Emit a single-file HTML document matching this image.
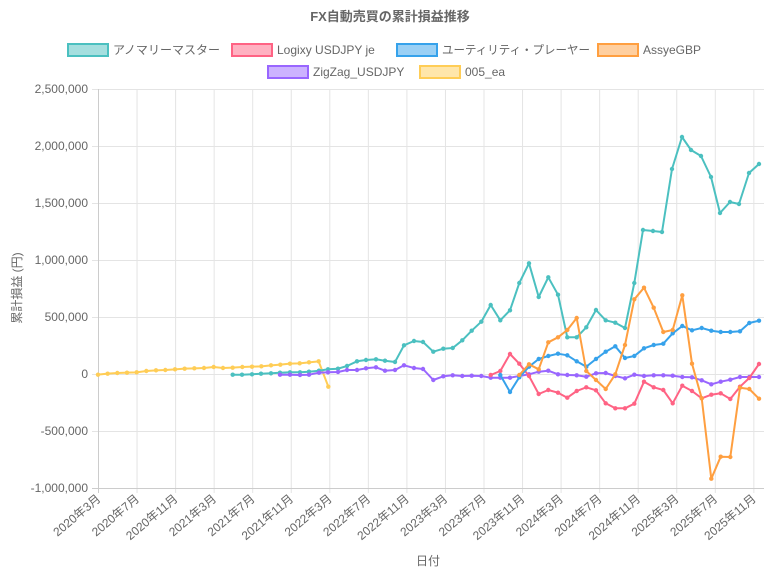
<!DOCTYPE html>
<html><head><meta charset="utf-8"><style>
body{margin:0;background:#fff}
svg text{font-family:"Liberation Sans","Noto Sans CJK JP",sans-serif;fill:#666}
</style></head><body>
<svg width="779" height="571" xmlns="http://www.w3.org/2000/svg">
<text x="390" y="21" text-anchor="middle" font-size="13" font-weight="bold" style="fill:#666">FX自動売買の累計損益推移</text>
<g font-size="12">
<rect x="68" y="44" width="40" height="12" fill="rgba(75,192,192,0.5)" stroke="#4bc0c0" stroke-width="2"/><text x="113" y="54" textLength="107" lengthAdjust="spacingAndGlyphs">アノマリーマスター</text>
<rect x="232" y="44" width="40" height="12" fill="rgba(255,99,132,0.5)" stroke="#ff6384" stroke-width="2"/><text x="277" y="54">Logixy USDJPY je</text>
<rect x="397" y="44" width="40" height="12" fill="rgba(54,162,235,0.5)" stroke="#36a2eb" stroke-width="2"/><text x="442" y="54" textLength="148" lengthAdjust="spacingAndGlyphs">ユーティリティ・プレーヤー</text>
<rect x="598" y="44" width="40" height="12" fill="rgba(255,159,64,0.5)" stroke="#ff9f40" stroke-width="2"/><text x="643" y="54">AssyeGBP</text>
<rect x="268" y="66" width="40" height="12" fill="rgba(153,102,255,0.5)" stroke="#9966ff" stroke-width="2"/><text x="313" y="76">ZigZag_USDJPY</text>
<rect x="420" y="66" width="40" height="12" fill="rgba(255,205,86,0.5)" stroke="#ffcd56" stroke-width="2"/><text x="465" y="76">005_ea</text>
</g>
<g stroke="#e4e4e4" stroke-width="1">
<line x1="92" x2="764" y1="89.5" y2="89.5"/><line x1="92" x2="764" y1="146.5" y2="146.5"/><line x1="92" x2="764" y1="203.5" y2="203.5"/><line x1="92" x2="764" y1="260.5" y2="260.5"/><line x1="92" x2="764" y1="317.5" y2="317.5"/><line x1="92" x2="764" y1="374.5" y2="374.5"/><line x1="92" x2="764" y1="431.5" y2="431.5"/>
</g>
<g stroke="#e4e4e4" stroke-width="1" id="vg"></g>
<line x1="92" x2="764" y1="488.5" y2="488.5" stroke="#ccc"/>
<line x1="98.5" x2="98.5" y1="89" y2="493" stroke="#ccc"/>
<g font-size="12" text-anchor="end">
<text x="88" y="93">2,500,000</text><text x="88" y="150">2,000,000</text><text x="88" y="207">1,500,000</text><text x="88" y="264">1,000,000</text><text x="88" y="321">500,000</text><text x="88" y="378">0</text><text x="88" y="435">-500,000</text><text x="88" y="492">-1,000,000</text>
</g>
<g font-size="12" text-anchor="end" id="xl"></g>
<text x="428" y="565" font-size="12" text-anchor="middle">日付</text>
<text transform="translate(21,288) rotate(-90)" font-size="12" text-anchor="middle">累計損益 (円)</text>
<g id="series" fill="none" stroke-width="2" stroke-linejoin="round"></g>
</svg>
<script>
var ns="http://www.w3.org/2000/svg";
var labels=["2020年3月","2020年7月","2020年11月","2021年3月","2021年7月","2021年11月","2022年3月","2022年7月","2022年11月","2023年3月","2023年7月","2023年11月","2024年3月","2024年7月","2024年11月","2025年3月","2025年7月","2025年11月"];
var vg=document.getElementById("vg"),xl=document.getElementById("xl");
labels.forEach(function(l,i){var x=98.5+38.55*i;
if(i>0){var ln=document.createElementNS(ns,"line");ln.setAttribute("x1",x);ln.setAttribute("x2",x);ln.setAttribute("y1",89);ln.setAttribute("y2",493);vg.appendChild(ln);}
var t=document.createElementNS(ns,"text");t.setAttribute("transform","translate("+(x+3)+",500) rotate(-40)");t.textContent=l;xl.appendChild(t);});
function yel(){var p=[[24,284],[53,281],[82,279],[111,278],[140,277],[169,273],[198,271],[226,270],[255,268],[284,266],[313,265],[342,264],[371,261],[399,264],[428,263],[457,261],[486,260],[514,259],[543,256],[571,254],[600,251],[629,250],[657,247],[686,244],[715,320]];return p.map(function(a){return [90+a[0]/3,280+a[1]/3];});}
var teal=[[232.7,374.7],[242,374.7],[252,374.3],[261,373.7],[271,373.3],[280,372.7],[290,372.3],[300,372.3],[309,371.7],[319,370.7],[328,369.3],[338,368.7],[347,366],[357,361.3],[366,360],[376,359.3],[385,360.7],[395,362],[404,345.3],[414,341],[423,342],[433.3,351.7],[443.3,348.7],[452.7,348],[462.3,340.3],[471.7,330.7],[481.3,321.7],[490.7,305],[500.3,320.3],[510,310.3],[519.3,283],[529,263.3],[538.7,297],[548.3,277.3],[558,294.7],[567.3,337.3],[576.7,337.3],[586.3,327.3],[596,310],[605.7,320.3],[615.3,322.7],[625,328],[634.3,283],[643,230],[653,231],[662,232],[672,169],[682,137],[691,150],[701,156],[711,177],[720,213],[730,202],[739,204],[749,173],[759,164]];
var purp=[[280,374.7],[290,374.7],[300,375],[309,374.7],[319,372.7],[328,372.3],[338,372],[347,370],[357,370],[366,368.3],[376,367.3],[385,370.7],[395,370],[404,365.3],[414,368],[423,369],[433.3,380],[443.3,376.3],[452.7,375.3],[462.3,376],[471.7,375.7],[481.3,376],[490.7,377.7],[500.3,377.7],[510,377.7],[519.3,376],[529,374.3],[538.7,371.7],[548.3,370.7],[558,374.3],[567.3,375],[576.7,375.3],[586.3,376.7],[596,373.3],[605.7,373],[615.3,376],[625,378.3],[634.3,374.7],[644,376],[653.7,375.3],[663.3,375.3],[672.7,375.7],[682.3,377],[692,377.3],[701.7,380.3],[711.3,384.3],[720.7,381.7],[730.3,379.7],[740,377],[749.3,377],[759,377]];
var red=[[490.7,375],[500.3,371],[510,354],[519.3,363.7],[529,376],[538.7,394],[548.3,390],[558,392.7],[567.3,397.7],[576.7,391],[586.3,387.3],[596,390.3],[605.7,403.3],[615.3,408.3],[625,408.3],[634.3,403.7],[644,381.7],[653.7,387.3],[663.3,390],[672.7,403.3],[682.3,385.7],[692,391],[701.7,398.3],[711.3,394.7],[720.7,393.3],[730.3,399],[740,386.7],[749.3,378],[759,364]];
var blue=[[500.3,375],[510,392],[519.3,377.3],[529,366.7],[538.7,359],[548.3,356],[558,353.7],[567.3,355.3],[576.7,361.3],[586.3,366.7],[596,359],[605.7,351.7],[615.3,346.3],[625,358],[634.3,356],[644,348.3],[653.7,345],[663.3,343.7],[672.7,333.3],[682.3,326],[692,330.3],[701.7,328],[711.3,330.7],[720.7,332],[730.3,332],[740,331.3],[749.3,323],[759,320.7]];
var orng=[[519.3,375],[529,364.3],[538.7,369.3],[548.3,342.3],[558,337.3],[567.3,330],[576.7,318],[586.3,371],[596,380],[605.7,389],[615.3,374.3],[625,345],[634.3,299.3],[644,287.7],[653.7,307.7],[663.3,332],[672.7,330],[682.3,295.3],[692,363.7],[701.7,398.3],[711.3,478.7],[720.7,456.7],[730.3,457],[740,387.7],[749.3,389],[759,398.7]];
var S=document.getElementById("series");
function draw(p,c){var pl=document.createElementNS(ns,"polyline");pl.setAttribute("points",p.map(function(a){return a.join(",");}).join(" "));pl.setAttribute("stroke",c);S.appendChild(pl);
p.forEach(function(a){var ci=document.createElementNS(ns,"circle");ci.setAttribute("cx",a[0]);ci.setAttribute("cy",a[1]);ci.setAttribute("r",2.2);ci.setAttribute("fill",c);ci.setAttribute("stroke","none");S.appendChild(ci);});}
draw(yel(),"#ffcd56");draw(teal,"#4bc0c0");draw(purp,"#9966ff");draw(red,"#ff6384");draw(blue,"#36a2eb");draw(orng,"#ff9f40");
</script>
</body></html>
